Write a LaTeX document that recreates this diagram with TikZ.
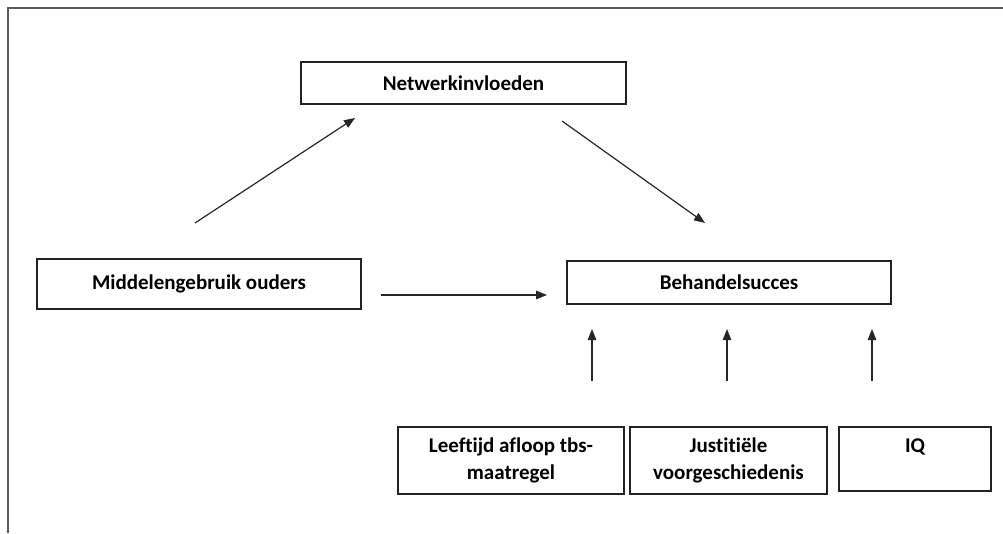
\documentclass[tikz,border=0pt]{standalone}
\usepackage{fontspec}
\setmainfont{Carlito}[Ligatures=NoCommon]
\usetikzlibrary{arrows.meta}
\definecolor{framegray}{HTML}{5A5A5A}
\definecolor{boxline}{HTML}{222222}
\begin{document}
\begin{tikzpicture}[x=1pt,y=-1pt,
  box/.style={draw=boxline, line width=1.3pt, inner sep=0pt, align=center,
    font=\fontsize{21}{27}\selectfont\bfseries},
  conn/.style={line width=1.2pt, draw=black!85, -{Triangle[length=11pt,width=8.5pt]}}]
\useasboundingbox (0,0) rectangle (1003,533);
% frame
\draw[framegray, line width=2pt] (8,533) -- (8,8) -- (1003,8);
% boxes
\node[box, minimum width=325, minimum height=42] (net) at (463.5,83) {Netwerkinvloeden};
\node[box, minimum width=324, minimum height=50] (mid) at (199,284) {Middelengebruik ouders};
\node[box, minimum width=324, minimum height=43] (beh) at (729,282.5) {Behandelsucces};
\node[box, minimum width=226, minimum height=67] (lft) at (511,460.5) {Leeftijd afloop tbs-\\maatregel};
\node[box, minimum width=197, minimum height=67] (jus) at (728.5,460.5) {Justitiële\\voorgeschiedenis};
\node[box, minimum width=152, minimum height=64] (iq) at (915,459) {IQ\\\phantom{I}};
% connector ends
\coordinate (a1s) at (195,223); \coordinate (a1e) at (355,118);
\coordinate (a2s) at (562,121); \coordinate (a2e) at (705,223);
\coordinate (a3s) at (381,295); \coordinate (a3e) at (547,295);
\coordinate (u1s) at (592,381); \coordinate (u1e) at (592,329);
\coordinate (u2s) at (727,381); \coordinate (u2e) at (727,329);
\coordinate (u3s) at (872,381); \coordinate (u3e) at (872,329);
\draw[conn] (a1s) -- (a1e);
\draw[conn] (a2s) -- (a2e);
\draw[conn] (a3s) -- (a3e);
\draw[conn] (u1s) -- (u1e);
\draw[conn] (u2s) -- (u2e);
\draw[conn] (u3s) -- (u3e);
\end{tikzpicture}
\end{document}
